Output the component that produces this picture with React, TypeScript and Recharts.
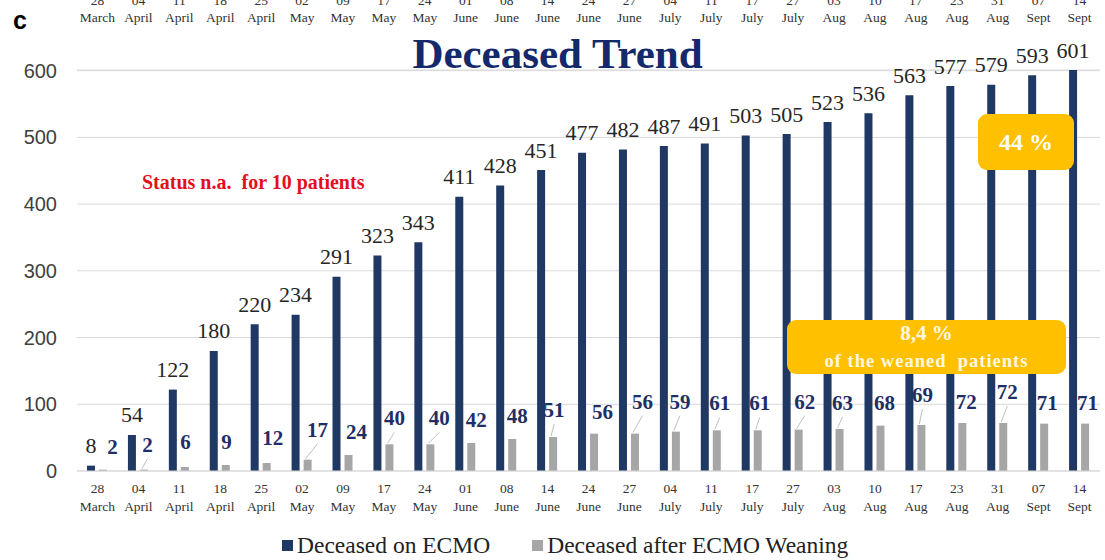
import React from 'react';
import { BarChart, Bar, XAxis, YAxis, CartesianGrid, Legend, LabelList } from 'recharts';

// dates of each snapshot (day + month)
const days = ['28', '04', '11', '18', '25', '02', '09', '17', '24', '01', '08', '14', '24', '27', '04', '11', '17', '27', '03', '10', '17', '23', '31', '07', '14'];
const months = ['March', 'April', 'April', 'April', 'April', 'May', 'May', 'May', 'May', 'June', 'June', 'June', 'June', 'June', 'July', 'July', 'July', 'July', 'Aug', 'Aug', 'Aug', 'Aug', 'Aug', 'Sept', 'Sept'];

// cumulative counts
const onEcmo = [8, 54, 122, 180, 220, 234, 291, 323, 343, 411, 428, 451, 477, 482, 487, 491, 503, 505, 523, 536, 563, 577, 579, 593, 601];
const afterWeaning = [2, 2, 6, 9, 12, 17, 24, 40, 40, 42, 48, 51, 56, 56, 59, 61, 61, 62, 63, 68, 69, 72, 72, 71, 71];

const yTicks = [0, 100, 200, 300, 400, 500, 600];

// label placement for the weaning series (layout only): [dx, dy, leader line]
const weanNudge: [number, number, boolean][] = [
  [9.5, -23, false], [3.6, -25, true], [0.7, -25, false], [0.7, -23, false], [6, -25, false],
  [10, -30, true], [8, -23, false], [5, -26, true], [9, -26, true], [5, -23, false],
  [5, -23, false], [1, -27, true], [8.5, -22, false], [7.5, -32, true], [4, -30, true],
  [3, -27, true], [2, -27, true], [6, -28, true], [3, -26, true], [4, -23, false],
  [1, -30, true], [4, -21, false], [4, -31, true], [3, -21, false], [2.5, -21, false],
];

const data = days.map((d, i) => ({
  cat: `${d} ${months[i]}`,
  ecmo: onEcmo[i],
  weaned: afterWeaning[i],
}));

const NAVY = '#1f3864';
const GREY = '#a6a6a6';
const SERIF = '"Liberation Serif", "Times New Roman", serif';
const SANS = '"Liberation Sans", Arial, sans-serif';

const BottomTick = (props: any) => {
  const { x, y, payload } = props;
  const [d, m] = String(payload.value).split(' ');
  return (
    <g>
      <text x={x} y={y + 17} textAnchor="middle" dominantBaseline="central" fontFamily={SERIF} fontSize={13.5} fill="#333">{d}</text>
      <text x={x} y={y + 35} textAnchor="middle" dominantBaseline="central" fontFamily={SERIF} fontSize={13.5} fill="#333">{m}</text>
    </g>
  );
};

// top axis repeats the dates; the day line runs off the top edge as in the source
const TopTick = (props: any) => {
  const { x, payload } = props;
  const [d, m] = String(payload.value).split(' ');
  return (
    <g>
      <text x={x} y={0} textAnchor="middle" dominantBaseline="central" fontFamily={SERIF} fontSize={13.5} fill="#333">{d}</text>
      <text x={x} y={17} textAnchor="middle" dominantBaseline="central" fontFamily={SERIF} fontSize={13.5} fill="#333">{m}</text>
    </g>
  );
};

const EcmoLabel = (p: any) => (
  <text x={p.x + p.width / 2} y={p.y - 20} textAnchor="middle" dominantBaseline="central" fontFamily={SERIF} fontSize={22} fill="#262626">
    {p.value}
  </text>
);

const WeanLabel = (p: any) => {
  const [dx, dy, leader] = weanNudge[p.index] || [0, -22, false];
  const cx = p.x + p.width / 2;
  const lx = cx + dx;
  const ly = p.y + dy;
  return (
    <g>
      {leader && <line x1={cx - 2} y1={p.y - 1} x2={lx} y2={ly + 14} stroke="#bfbfbf" strokeWidth={1} />}
      <text x={lx} y={ly} textAnchor="middle" dominantBaseline="central" fontFamily={SERIF} fontSize={21} fontWeight="bold" fill="#1f2f66">
        {p.value}
      </text>
    </g>
  );
};

const LegendBox = () => (
  <div style={{ height: 39, boxSizing: 'border-box', paddingTop: 20, paddingLeft: 282, display: 'flex', fontFamily: SERIF, fontSize: 23.5, lineHeight: '23px', color: '#222' }}>
    <span style={{ display: 'flex', alignItems: 'center' }}>
      <span style={{ width: 11, height: 11, background: NAVY, marginRight: 4, display: 'inline-block' }} />
      Deceased on ECMO
    </span>
    <span style={{ display: 'flex', alignItems: 'center', marginLeft: 42 }}>
      <span style={{ width: 11, height: 11, background: GREY, marginRight: 4, display: 'inline-block' }} />
      Deceased after ECMO Weaning
    </span>
  </div>
);

const badge: React.CSSProperties = {
  position: 'absolute',
  background: '#ffc000',
  borderRadius: 9,
  color: '#fff',
  fontFamily: SERIF,
  fontWeight: 'bold',
  display: 'flex',
  flexDirection: 'column',
  alignItems: 'center',
  justifyContent: 'center',
};

export default function App() {
  return (
    <div style={{ position: 'absolute', left: 0, top: 0, width: 1105, height: 560, background: '#fff', overflow: 'hidden' }}>
      <BarChart width={1105} height={560} data={data} margin={{ top: 0, right: 5, left: 0, bottom: 5 }} barGap={4}>
        <CartesianGrid vertical={false} stroke="#d9d9d9" />
        <XAxis xAxisId="top" orientation="top" dataKey="cat" height={70} axisLine={false} tickLine={false} interval={0} tick={<TopTick />} />
        <XAxis dataKey="cat" height={45} interval={0} axisLine={{ stroke: '#d9d9d9' }} tickLine={false} tickSize={0} tickMargin={0} tick={<BottomTick />} />
        <YAxis domain={[0, 601]} ticks={yTicks} width={77} axisLine={false} tickLine={false} tickSize={0} tickMargin={20}
          tick={{ fontFamily: SANS, fontSize: 20, fill: '#404040' }} />
        <Legend verticalAlign="bottom" content={<LegendBox />} wrapperStyle={{ left: 0, width: 1105 }} />
        <Bar dataKey="ecmo" name="Deceased on ECMO" fill={NAVY} barSize={8} isAnimationActive={false}>
          <LabelList dataKey="ecmo" content={<EcmoLabel />} />
        </Bar>
        <Bar dataKey="weaned" name="Deceased after ECMO Weaning" fill={GREY} barSize={8} isAnimationActive={false}>
          <LabelList dataKey="weaned" content={<WeanLabel />} />
        </Bar>
      </BarChart>

      <div style={{ position: 'absolute', left: 13, top: 5, fontFamily: SANS, fontWeight: 'bold', fontSize: 25, lineHeight: '30px' }}>c</div>
      <div style={{ position: 'absolute', left: 0, width: 1115, top: 30, textAlign: 'center', fontFamily: SERIF, fontWeight: 'bold', fontSize: 43, lineHeight: '48px', color: '#14296b' }}>
        Deceased Trend
      </div>
      <div style={{ position: 'absolute', left: 142, top: 170, fontFamily: SERIF, fontWeight: 'bold', fontSize: 20, lineHeight: '24px', color: '#e3101c', whiteSpace: 'pre' }}>
        Status n.a.  for 10 patients
      </div>
      <div style={{ ...badge, left: 978, top: 114, width: 96, height: 56, fontSize: 24 }}>44 %</div>
      <div style={{ ...badge, left: 787, top: 320, width: 279, height: 54, lineHeight: '28px', color: '#fff8e0' }}>
        <span style={{ fontSize: 21 }}>8,4 %</span>
        <span style={{ fontSize: 18.5, letterSpacing: 1, whiteSpace: 'pre' }}>of the weaned  patients</span>
      </div>
    </div>
  );
}
